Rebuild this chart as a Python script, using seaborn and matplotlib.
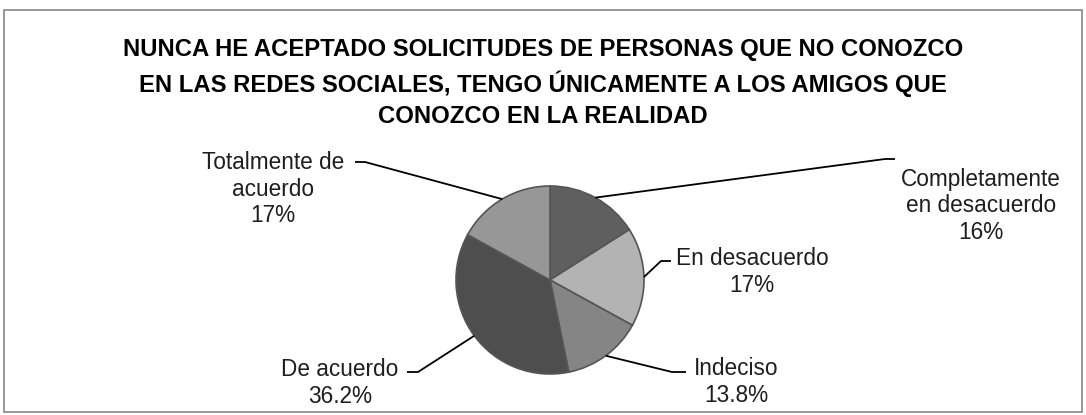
import matplotlib
matplotlib.use("Agg")
import matplotlib.pyplot as plt
import seaborn as sns
import numpy as np
from matplotlib.patches import Rectangle

# data
categories = ["Completamente\nen desacuerdo", "En desacuerdo", "Indeciso",
              "De acuerdo", "Totalmente de\nacuerdo"]
values = [16.0, 17.0, 13.8, 36.2, 17.0]
pct_labels = ["16%", "17%", "13.8%", "36.2%", "17%"]
slice_colors = ["#5f5f5f", "#b3b3b3", "#858585", "#4e4e4e", "#979797"]

title = ("NUNCA HE ACEPTADO SOLICITUDES DE PERSONAS QUE NO CONOZCO\n"
         "EN LAS REDES SOCIALES, TENGO ÚNICAMENTE A LOS AMIGOS QUE\n"
         "CONOZCO EN LA REALIDAD")

sns.set_theme(style="white")
plt.rcParams['font.family'] = ['Liberation Sans', 'DejaVu Sans']

W, H = 1086, 415
CX, CY, R = 550, 280, 94  # pie centre and radius in pixels

fig = plt.figure(figsize=(W / 100, H / 100), dpi=100)
ax = fig.add_axes([0, 0, 1, 1])

palette = sns.color_palette(slice_colors)
wedges, _ = ax.pie(values, colors=palette, startangle=90, counterclock=False,
                   radius=1.0, center=(0, 0),
                   wedgeprops=dict(edgecolor="#555555", linewidth=1.2))

# pie() resets the limits, so set them afterwards
ax.set_xlim(-CX / R, (W - CX) / R)
ax.set_ylim(-(H - CY) / R, CY / R)
ax.set_aspect("equal", adjustable="datalim")
ax.axis("off")


def px(x, y):
    return (x - CX) / R, (CY - y) / R


# leader elbows and label anchors (pixels)
elbows = [(885, 159), (661, 261), (672, 372), (418, 372), (365, 162)]
ends = [(895, 159), (671, 261), (686, 372), (407, 372), (355, 162)]
text_pos = [(981, 206), (752, 272), (736, 382), (340, 383), (273, 189)]

for w, el, en, tp, cat, pct in zip(wedges, elbows, ends, text_pos,
                                   categories, pct_labels):
    mid = np.deg2rad((w.theta1 + w.theta2) / 2)
    ex, ey = np.cos(mid), np.sin(mid)
    x1, y1 = px(*el)
    x2, y2 = px(*en)
    ax.plot([ex, x1, x2], [ey, y1, y2], color="black", lw=1.3, solid_capstyle="butt")
    tx, ty = px(*tp)
    ax.text(tx, ty, f"{cat}\n{pct}", ha="center", va="center",
            fontsize=16.3, color="#1e1e1e", linespacing=1.22)

fig.text(0.5, 1 - 83 / H, title, ha="center", va="center", fontsize=17.2,
         fontweight="bold", color="black", linespacing=1.45)

fig.add_artist(Rectangle((4 / W, 3 / H), 1 - 8 / W, 1 - 13 / H, transform=fig.transFigure,
                         fill=False, edgecolor="#868686", linewidth=1.2))

fig.savefig("out.png", dpi=100, facecolor="white")
